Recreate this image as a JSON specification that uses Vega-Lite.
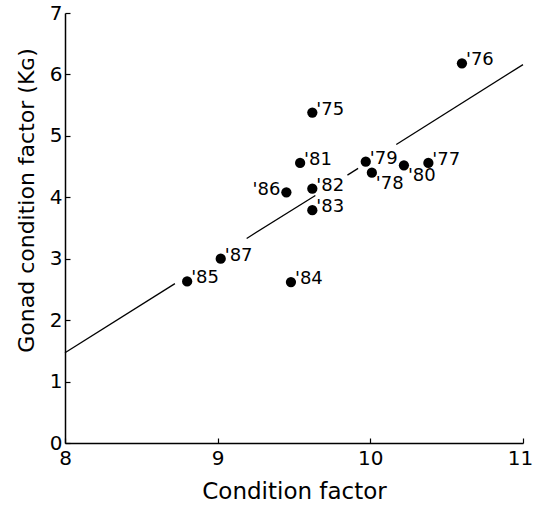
{
  "$schema": "https://vega.github.io/schema/vega-lite/v6.json",
  "width": 458,
  "height": 430,
  "autosize": {"type": "none"},
  "padding": {"left": 65, "top": 13, "right": 11, "bottom": 68},
  "background": "white",
  "config": {
    "view": {"stroke": null},
    "font": "DejaVu Sans",
    "axis": {
      "domainColor": "black",
      "domainWidth": 1.5,
      "tickColor": "black",
      "tickWidth": 1.2,
      "tickSize": -5,
      "grid": false,
      "labelColor": "black",
      "titleColor": "black",
      "labelFont": "DejaVu Sans",
      "titleFont": "DejaVu Sans",
      "labelFontSize": 20,
      "titleFontSize": 22,
      "titleFontWeight": "normal",
      "format": "d"
    }
  },
  "datasets": {
    "pts": [
      {"cf": 10.60, "kg": 6.18, "year": "'76"},
      {"cf": 9.62, "kg": 5.38, "year": "'75"},
      {"cf": 9.54, "kg": 4.56, "year": "'81"},
      {"cf": 9.97, "kg": 4.58, "year": "'79"},
      {"cf": 10.01, "kg": 4.40, "year": "'78"},
      {"cf": 10.22, "kg": 4.52, "year": "'80"},
      {"cf": 10.38, "kg": 4.56, "year": "'77"},
      {"cf": 9.45, "kg": 4.08, "year": "'86"},
      {"cf": 9.62, "kg": 4.14, "year": "'82"},
      {"cf": 9.62, "kg": 3.79, "year": "'83"},
      {"cf": 9.02, "kg": 3.00, "year": "'87"},
      {"cf": 8.80, "kg": 2.63, "year": "'85"},
      {"cf": 9.48, "kg": 2.62, "year": "'84"}
    ],
    "fit": [
      {"cf": 8.0, "kg": 1.47, "seg": 1},
      {"cf": 8.72, "kg": 2.595, "seg": 1},
      {"cf": 9.19, "kg": 3.33, "seg": 2},
      {"cf": 9.64, "kg": 4.03, "seg": 2},
      {"cf": 9.85, "kg": 4.36, "seg": 3},
      {"cf": 9.92, "kg": 4.47, "seg": 3},
      {"cf": 10.17, "kg": 4.86, "seg": 4},
      {"cf": 11.0, "kg": 6.16, "seg": 4}
    ]
  },
  "layer": [
    {
      "data": {"name": "fit"},
      "mark": {"type": "line", "color": "black", "strokeWidth": 1.3},
      "encoding": {
        "x": {
          "field": "cf", "type": "quantitative",
          "scale": {"domain": [8, 11], "nice": false, "zero": false},
          "axis": {"values": [8, 9, 10, 11], "title": "Condition factor", "titleFontSize": 23, "labelPadding": 10, "titlePadding": 12, "labelFlush": false, "labelOffset": {"expr": "datum.value == 11 ? -3 : 0"}}
        },
        "y": {
          "field": "kg", "type": "quantitative",
          "scale": {"domain": [0, 7], "nice": false},
          "axis": {"values": [0, 1, 2, 3, 4, 5, 6, 7], "title": "Gonad condition factor (Kɢ)", "labelPadding": 8, "titlePadding": 11, "titleY": 187, "labelFlush": false}
        },
        "detail": {"field": "seg"}
      }
    },
    {
      "data": {"name": "pts"},
      "mark": {"type": "circle", "color": "black", "opacity": 1, "size": 105},
      "encoding": {
        "x": {"field": "cf", "type": "quantitative"},
        "y": {"field": "kg", "type": "quantitative"}
      }
    },
    {
      "data": {"name": "pts"},
      "transform": [{"filter": {"field": "year", "oneOf": ["'76", "'75", "'81", "'79", "'82", "'83", "'87", "'85", "'84", "'77"]}}],
      "mark": {"type": "text", "align": "left", "baseline": "middle", "dx": 4, "dy": -3, "fontSize": 18, "color": "black"},
      "encoding": {
        "x": {"field": "cf", "type": "quantitative"},
        "y": {"field": "kg", "type": "quantitative"},
        "text": {"field": "year"}
      }
    },
    {
      "data": {"name": "pts"},
      "transform": [{"filter": {"field": "year", "oneOf": ["'86"]}}],
      "mark": {"type": "text", "align": "right", "baseline": "middle", "dx": -6, "dy": -2, "fontSize": 18, "color": "black"},
      "encoding": {
        "x": {"field": "cf", "type": "quantitative"},
        "y": {"field": "kg", "type": "quantitative"},
        "text": {"field": "year"}
      }
    },
    {
      "data": {"name": "pts"},
      "transform": [{"filter": {"field": "year", "oneOf": ["'78", "'80"]}}],
      "mark": {"type": "text", "align": "left", "baseline": "middle", "dx": 4, "dy": 11, "fontSize": 18, "color": "black"},
      "encoding": {
        "x": {"field": "cf", "type": "quantitative"},
        "y": {"field": "kg", "type": "quantitative"},
        "text": {"field": "year"}
      }
    }
  ]
}
